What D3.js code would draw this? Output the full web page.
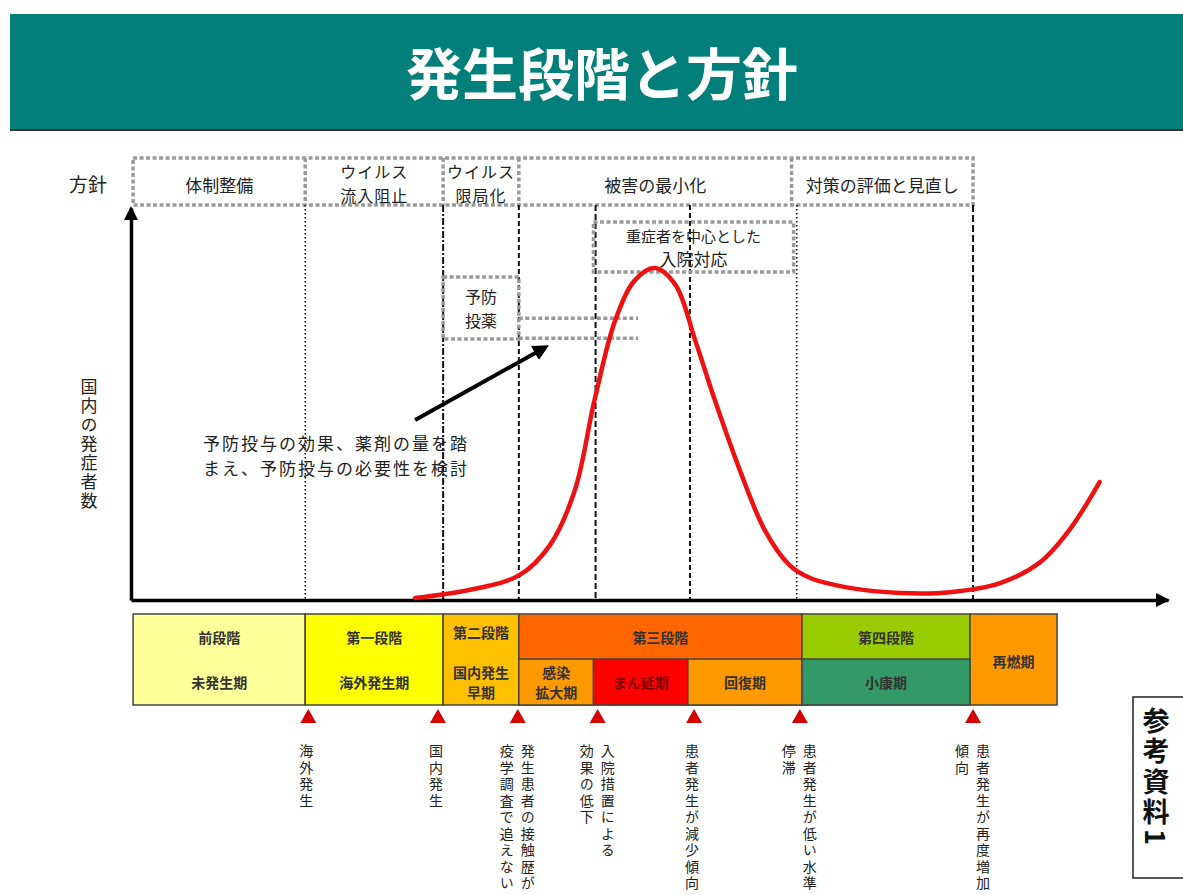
<!DOCTYPE html>
<html>
<head>
<meta charset="utf-8">
<script src="https://cdn.jsdelivr.net/npm/d3@7"></script>
<style>
  body { margin: 0; background: #fff; }
  svg { display: block; font-family: "Noto Sans CJK JP", "Noto Sans", sans-serif; }
  .vert { writing-mode: vertical-rl; }
</style>
</head>
<body>
<div id="my_dataviz"></div>
<script>
// Time runs 0..100 along the x axis, case count 0..100 up the y axis
const curveTimes  = [27.4, 32.7, 37.5, 40.4, 42.8, 44.7, 46.7, 48.6, 50.5, 52.5, 54.4, 56.3, 58.7, 61.1, 63.5, 65.5, 69.3, 74.2, 79.0, 83.8, 87.7, 90.5, 93.4];
const curveCases  = [0.5, 2.6, 6.4, 14, 28, 51, 71.4, 81.6, 84.7, 80.4, 66.3, 51, 33.2, 17.9, 8.9, 5.6, 3.1, 1.8, 2.0, 4.3, 9.7, 17.9, 30.1];

// Policy row (方針)
const policyLabels = [["体制整備"], ["ウイルス", "流入阻止"], ["ウイルス", "限局化"], ["被害の最小化"], ["対策の評価と見直し"]];
const policyBounds = [0.2, 16.8, 30.1, 37.4, 63.7, 81.2];

// Vertical guide lines
const guideTimes = [16.8, 30.1, 37.4, 44.8, 53.9, 64.2, 81.2];

// Stages (upper row) and periods (lower row)
const stageNames  = ["前段階", "第一段階", "第二段階", "第三段階", "第四段階", "再燃期"];
const stageBounds = [0.2, 16.8, 30.1, 37.4, 64.7, 80.9, 89.3];
const stageLower  = [["未発生期"], ["海外発生期"], ["国内発生", "早期"], null, null, null];
const periodNames  = [["感染", "拡大期"], ["まん延期"], ["回復期"], ["小康期"]];
const periodBounds = [37.4, 44.6, 53.7, 64.7, 80.9];

// Event markers below the chart
const markerTimes = [17.1, 29.6, 37.3, 45.0, 54.3, 64.5, 81.2];
const markerTexts = [
  ["海外発生"],
  ["国内発生"],
  ["発生患者の接触歴が", "疫学調査で追えない"],
  ["入院措置による", "効果の低下"],
  ["患者発生が減少傾向"],
  ["患者発生が低い水準で", "停滞"],
  ["患者発生が再度増加", "傾向"]
];

// Annotations inside the plot
const boxSevere = { label: ["重症者を中心とした", "入院対応"], t0: 44.6, t1: 63.9, v0: 83.7, v1: 96.4 };
const boxPrev   = { label: ["予防", "投薬"], t0: 30.1, t1: 37.4, v0: 66.6, v1: 82.4 };
const prevLines = [71.9, 66.8];
const prevLineEnd = 48.9;
const arrowFrom = [27.4, 45.9];
const arrowTo   = [40.4, 65.0];
const noteLines = ["予防投与の効果、薬剤の量を踏", "まえ、予防投与の必要性を検討"];

const width = 1183, height = 895;
const svg = d3.select("#my_dataviz").append("svg").attr("width", width).attr("height", height);

const x = d3.scaleLinear().domain([0, 100]).range([131, 1168]);
const y = d3.scaleLinear().domain([0, 100]).range([600, 208]);

const stageColor = d3.scaleOrdinal(stageNames, ["#FFFF99", "#FFFF00", "#FFC000", "#FF6600", "#99CC00", "#FF9900"]);
const periodColor = d3.scaleOrdinal(periodNames.map(d => d.join("")), ["#FF9900", "#FF0000", "#FF9900", "#339966"]);

// Title band
svg.append("rect").attr("x", 10).attr("y", 14).attr("width", width - 10).attr("height", 116).attr("fill", "#027f7b");
svg.append("line").attr("x1", 10).attr("x2", width).attr("y1", 130).attr("y2", 130).attr("stroke", "#333").attr("stroke-width", 2);
svg.append("text").attr("x", 602).attr("y", 70).attr("text-anchor", "middle").attr("dominant-baseline", "central")
  .attr("fill", "#fff").attr("font-size", 56).attr("font-weight", 700).text("発生段階と方針");

// Policy row
const rowTop = 158, rowBot = 205;
svg.append("text").attr("x", 88).attr("y", 183).attr("text-anchor", "middle").attr("dominant-baseline", "central")
  .attr("font-size", 19).attr("fill", "#222").text("方針");
const dotted = sel => sel.attr("fill", "none").attr("stroke", "#9a9a9a").attr("stroke-width", 3.5).attr("stroke-dasharray", "4,2.5");
dotted(svg.append("rect").attr("x", x(policyBounds[0])).attr("y", rowTop)
  .attr("width", x(policyBounds[policyBounds.length - 1]) - x(policyBounds[0])).attr("height", rowBot - rowTop));
policyBounds.slice(1, -1).forEach(t => {
  dotted(svg.append("line").attr("x1", x(t)).attr("x2", x(t)).attr("y1", rowTop).attr("y2", rowBot));
});
policyLabels.forEach((lab, i) => {
  const cx = (x(policyBounds[i]) + x(policyBounds[i + 1])) / 2;
  const ys = lab.length === 1 ? [184] : [171, 194.5];
  lab.forEach((s, j) => svg.append("text").attr("x", cx).attr("y", ys[j]).attr("text-anchor", "middle")
    .attr("dominant-baseline", "central").attr("font-size", lab.length === 1 ? 17 : 16)
    .attr("letter-spacing", lab.length === 1 ? 0 : 1).attr("fill", "#222").text(s));
});

// Vertical guides
const guideDash = ["1.5,2.5", "7,2,2,2", "5,3", "6,3", "5,3", "1.5,2.5", "7,3"];
guideTimes.forEach((t, i) => {
  svg.append("line").attr("x1", x(t)).attr("x2", x(t)).attr("y1", rowBot).attr("y2", y(0))
    .attr("stroke", "#111").attr("stroke-width", i === 0 || i === 5 ? 1.5 : 2).attr("stroke-dasharray", guideDash[i]);
});

// Boxes in the plot
[boxSevere, boxPrev].forEach((b, k) => {
  const r = svg.append("rect").attr("x", x(b.t0)).attr("y", y(b.v1)).attr("width", x(b.t1) - x(b.t0)).attr("height", y(b.v0) - y(b.v1));
  dotted(r);
  const cx = (x(b.t0) + x(b.t1)) / 2, cy = (y(b.v0) + y(b.v1)) / 2;
  b.label.forEach((s, j) => svg.append("text").attr("x", cx).attr("y", cy + (j - 0.5) * (k === 0 ? 23.5 : 24))
    .attr("text-anchor", "middle").attr("dominant-baseline", "central")
    .attr("font-size", k === 0 ? (j === 0 ? 15 : 17) : 16).attr("fill", "#222").text(s));
});
prevLines.forEach(v => {
  dotted(svg.append("line").attr("x1", x(boxPrev.t1)).attr("x2", x(prevLineEnd)).attr("y1", y(v)).attr("y2", y(v)));
});

// Axes
const xAxis = svg.append("g").attr("transform", `translate(0,${y(0)})`).call(d3.axisBottom(x).ticks(0).tickSize(0).tickSizeOuter(0));
const yAxis = svg.append("g").attr("transform", `translate(${x(0)},0)`).call(d3.axisLeft(y).ticks(0).tickSize(0).tickSizeOuter(0));
[xAxis, yAxis].forEach(a => a.select(".domain").attr("stroke", "#000").attr("stroke-width", 3.5));
svg.append("path").attr("d", `M${x(100) + 2},${y(0)} l-14,-7 l0,14 z`).attr("fill", "#000");
svg.append("path").attr("d", `M${x(0)},${y(100) - 2} l-7,14 l14,0 z`).attr("fill", "#000");

// Vertical text: one element per character, stacked top-down
const vtext = (cx, top, s, size, step) => s.split("").map((c, k) => svg.append("text").attr("class", "vert")
  .attr("x", cx).attr("y", top + k * step).attr("font-size", size).attr("fill", "#222").text(c));

// Y label
vtext(89, 378, "国内の発症者数", 17, 19);

// Epidemic curve
const line = d3.line().x(d => x(d[0])).y(d => y(d[1])).curve(d3.curveCatmullRom.alpha(0.5));
svg.append("path").datum(curveTimes.map((t, i) => [t, curveCases[i]])).attr("d", line)
  .attr("fill", "none").attr("stroke", "#ee1111").attr("stroke-width", 4.5).attr("stroke-linecap", "round");

// Arrow + note
svg.append("defs").append("marker").attr("id", "ah").attr("viewBox", "0 0 10 10").attr("refX", 5).attr("refY", 5)
  .attr("markerWidth", 4).attr("markerHeight", 4).attr("orient", "auto")
  .append("path").attr("d", "M0,0 L10,5 L0,10 z").attr("fill", "#000");
svg.append("line").attr("x1", x(arrowFrom[0])).attr("y1", y(arrowFrom[1])).attr("x2", x(arrowTo[0]) - 8).attr("y2", y(arrowTo[1]) + 4)
  .attr("stroke", "#000").attr("stroke-width", 4).attr("marker-end", "url(#ah)");
noteLines.forEach((s, i) => svg.append("text").attr("x", 203).attr("y", 442 + i * 25).attr("dominant-baseline", "central")
  .attr("font-size", 17).attr("letter-spacing", 2).attr("fill", "#222").text(s));

// Stage bars
const barTop = 614, barMid = 659, barBot = 705;
stageNames.forEach((n, i) => {
  svg.append("rect").attr("x", x(stageBounds[i])).attr("y", barTop).attr("width", x(stageBounds[i + 1]) - x(stageBounds[i]))
    .attr("height", barBot - barTop).attr("fill", stageColor(n)).attr("stroke", "#444").attr("stroke-width", 1.5);
});
periodNames.forEach((p, i) => {
  svg.append("rect").attr("x", x(periodBounds[i])).attr("y", barMid).attr("width", x(periodBounds[i + 1]) - x(periodBounds[i]))
    .attr("height", barBot - barMid).attr("fill", periodColor(p.join(""))).attr("stroke", "#444").attr("stroke-width", 1.5);
});
const barText = (cx, cy, s, fill) => svg.append("text").attr("x", cx).attr("y", cy).attr("text-anchor", "middle")
  .attr("dominant-baseline", "central").attr("font-size", 14).attr("font-weight", 700).attr("fill", fill || "#333").text(s);
stageNames.forEach((n, i) => {
  const cx = (x(stageBounds[i]) + x(stageBounds[i + 1])) / 2;
  const lower = stageLower[i];
  if (n === "再燃期") { barText(cx, 661, n); return; }
  barText(cx, i === 2 ? 632 : 637, n);
  if (lower) {
    const ys = lower.length === 1 ? [682] : [672, 692];
    lower.forEach((s, j) => barText(cx, ys[j], s));
  }
});
periodNames.forEach((p, i) => {
  const cx = (x(periodBounds[i]) + x(periodBounds[i + 1])) / 2;
  const ys = p.length === 1 ? [682] : [672, 692];
  p.forEach((s, j) => barText(cx, ys[j], s, i === 1 ? "#7a0000" : "#333"));
});

// Markers and vertical labels
markerTimes.forEach((t, i) => {
  const mx = x(t);
  svg.append("path").attr("d", `M${mx},709 l8,14 l-16,0 z`).attr("fill", "#d40000");
  const cols = markerTexts[i];
  const offs = cols.length === 1 ? [-2] : [10, -11];
  cols.forEach((s, j) => vtext(mx + offs[j], 744, s, 14, 16.5));
});

// Reference tag
svg.append("rect").attr("x", 1133).attr("y", 697).attr("width", 55).attr("height", 181).attr("fill", "#fff").attr("stroke", "#222").attr("stroke-width", 1.5);
vtext(1156, 707, "参考資料1", 27, 30.5).forEach(t => t.attr("font-weight", 700).attr("fill", "#111"));
</script>
</body>
</html>
